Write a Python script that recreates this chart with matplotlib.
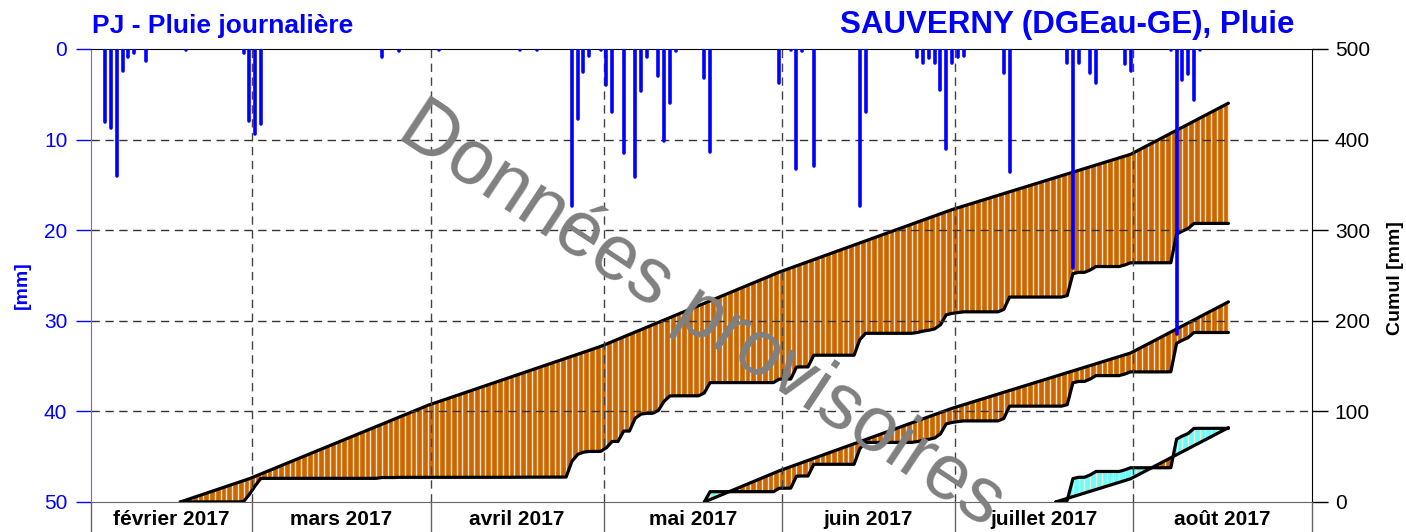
import matplotlib.pyplot as plt
import matplotlib.dates as mdates
import numpy as np
import pandas as pd

plt.rcParams['font.family'] = ['Liberation Sans', 'DejaVu Sans']

# Pluie journalière mesurée [mm] (les autres jours : 0)
jours_pluie = ['2017-02-03', '2017-02-04', '2017-02-05', '2017-02-06', '2017-02-07', '2017-02-08',
               '2017-02-10', '2017-02-17', '2017-02-27', '2017-02-28', '2017-03-01', '2017-03-02',
               '2017-03-23', '2017-03-26', '2017-04-02', '2017-04-16', '2017-04-19', '2017-04-25',
               '2017-04-26', '2017-04-27', '2017-04-28', '2017-04-30', '2017-05-01', '2017-05-02',
               '2017-05-04', '2017-05-06', '2017-05-07', '2017-05-08', '2017-05-10', '2017-05-11',
               '2017-05-12', '2017-05-13', '2017-05-18', '2017-05-19', '2017-05-31', '2017-06-02',
               '2017-06-03', '2017-06-04', '2017-06-06', '2017-06-14', '2017-06-15', '2017-06-24',
               '2017-06-25', '2017-06-26', '2017-06-27', '2017-06-28', '2017-06-29', '2017-06-30',
               '2017-07-01', '2017-07-02', '2017-07-09', '2017-07-10', '2017-07-20', '2017-07-21',
               '2017-07-22', '2017-07-24', '2017-07-25', '2017-07-30', '2017-07-31', '2017-08-07',
               '2017-08-08', '2017-08-09', '2017-08-10', '2017-08-11', '2017-08-12']
pluie_mm = [8.1, 8.7, 14.0, 2.4, 0.9, 0.4,
            1.3, 0.1, 0.4, 7.9, 9.4, 8.3,
            0.9, 0.2, 0.1, 0.1, 0.1, 17.3,
            7.7, 2.5, 0.8, 0.1, 4.0, 6.9,
            11.5, 14.1, 4.6, 0.9, 3.0, 10.1,
            6.0, 0.2, 3.2, 11.4, 3.8, 0.1,
            13.2, 0.2, 12.9, 17.3, 6.9, 0.9,
            1.5, 1.0, 1.5, 4.5, 11.0, 1.6,
            0.9, 0.8, 2.7, 13.6, 1.6, 24.2,
            1.5, 2.6, 3.8, 1.7, 2.4, 0.1,
            31.5, 3.4, 2.8, 5.6, 0.1]

# Normales mensuelles [mm]
mois = ['février 2017', 'mars 2017', 'avril 2017', 'mai 2017',
        'juin 2017', 'juillet 2017', 'août 2017']
normale_mm = [60, 81, 65, 82, 69, 61, 103]

# Début des cumuls (6 mois, 3 mois, 1 mois) et dernier jour
debuts_cumul = ['2017-02-16', '2017-05-18', '2017-07-18']
fin = '2017-08-17'

jours = pd.date_range('2017-02-01', fin, freq='D')
pluie = pd.Series(0.0, index=jours)
pluie[pd.to_datetime(jours_pluie)] = pluie_mm
normale_jour = np.asarray(normale_mm, dtype=float)[(jours.month - 2).to_numpy()] / jours.days_in_month.to_numpy()

debuts_mois = pd.date_range('2017-02-01', '2017-09-01', freq='MS')
x_mois = mdates.date2num(debuts_mois)
x_milieu = x_mois[:-1] + debuts_mois[:-1].days_in_month.to_numpy() / 2
xc = mdates.date2num(jours) + 0.5

fig = plt.figure(figsize=(14.06, 5.32), dpi=100)
ax = fig.add_axes([0.0647, 0.0564, 0.8684, 0.8515])
ax2 = ax.twinx()
ax.set_zorder(2)
ax.patch.set_visible(False)
ax2.set_zorder(1)

# cumuls : mesuré et normal
for d in debuts_cumul:
    m = jours >= pd.Timestamp(d)
    p = pluie[m].to_numpy().copy()
    n = normale_jour[m].copy()
    p[0] = 0
    n[0] = 0
    cum, ncum = p.cumsum(), n.cumsum()
    x = xc[m]
    ax2.fill_between(x, cum, ncum, where=ncum >= cum, interpolate=True, color='#CC6600', lw=0)
    ax2.fill_between(x, cum, ncum, where=cum > ncum, interpolate=True, color='#66FFFF', lw=0)
    ax2.vlines(x, np.minimum(cum, ncum), np.maximum(cum, ncum), color='#FBE6D2', lw=1.0)
    ax2.plot(x, ncum, color='black', lw=2.3, solid_joinstyle='round', solid_capstyle='round')
    ax2.plot(x, cum, color='black', lw=2.3, solid_joinstyle='round', solid_capstyle='round')

# grille
for v in [10, 20, 30, 40]:
    ax.axhline(v, color='#333333', lw=1.0, ls=(0, (6, 4)), zorder=1)
for xm in x_mois[1:-1]:
    ax.axvline(xm, color='#444444', lw=1.0, ls=(0, (6, 4)), zorder=1)

# pluie journalière
sel = pluie.to_numpy() > 0
ax.vlines(xc[sel], 0, pluie.to_numpy()[sel], color='#0000FF', lw=2.6, capstyle='round', zorder=3)

ax.set_xlim(x_mois[0], x_mois[-1])
ax.set_ylim(50, 0)
ax2.set_ylim(0, 500)

ax.set_yticks([0, 10, 20, 30, 40, 50])
ax.tick_params(axis='y', colors='#0000FF', labelsize=15, length=11, width=1, pad=6)
ax2.set_yticks([0, 100, 200, 300, 400, 500])
ax2.tick_params(axis='y', colors='black', labelsize=15, length=11.5, width=1, pad=5)

ax.set_xticks(x_mois)
ax.set_xticklabels([])
ax.set_xticks(x_milieu, minor=True)
ax.set_xticklabels(mois, minor=True, fontweight='bold', fontsize=15)
ax.tick_params(axis='x', which='major', length=40, color='#666666', width=1)
ax.tick_params(axis='x', which='minor', length=0, pad=6)

ax.spines['left'].set_color('#6666FF')
ax.spines['right'].set_visible(False)
ax.spines['top'].set_color('black')
ax.spines['bottom'].set_color('#666666')
for s in ['left', 'top', 'bottom']:
    ax2.spines[s].set_visible(False)
ax2.spines['right'].set_color('black')

fig.text(92 / 1406, 1 - 33 / 532, 'PJ - Pluie journalière', color='#0000FF',
         fontsize=19, fontweight='bold', ha='left', va='baseline')
fig.text(1294 / 1406, 1 - 33 / 532, 'SAUVERNY (DGEau-GE), Pluie', color='#0000FF',
         fontsize=22.5, fontweight='bold', ha='right', va='baseline')
fig.text(22 / 1406, 1 - 285 / 532, '[mm]', color='#0000FF', fontsize=14,
         fontweight='bold', rotation=90, ha='center', va='center')
fig.text(1395 / 1406, 1 - 278 / 532, 'Cumul [mm]', color='black', fontsize=14,
         fontweight='bold', rotation=90, ha='center', va='center')

fig.text(395 / 1406, 1 - 137 / 532, 'Données provisoires', color='#808080',
         fontsize=56, rotation=-33.5, rotation_mode='anchor', ha='left', va='baseline', zorder=10)

fig.savefig('out.png', dpi=100)
